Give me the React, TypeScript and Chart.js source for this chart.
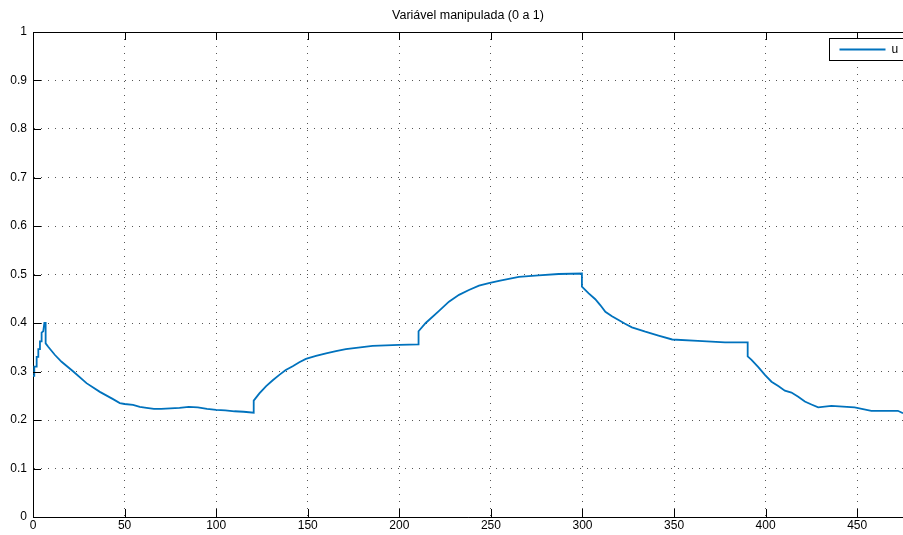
import React, { useEffect, useRef } from "react";
import { Chart, registerables } from "chart.js";

Chart.register(...registerables);

const chartTitle = "Variável manipulada (0 a 1)";
const seriesLabel = "u";

const timeValues = [
  0, 0.7, 0.7, 2, 2, 2.9, 2.9, 3.8, 3.8, 4.7, 4.7, 5.6, 6.2, 6.9, 6.9, 8.3, 12, 15.6, 22, 29.2,
  36.5, 43.7, 47.4, 50, 54.6, 58.3, 62, 66, 70, 75, 80, 85, 90, 95, 100, 105, 110, 115, 120.5,
  120.5, 123.6, 127.3, 130.9, 134.5, 138, 141.8, 145.4, 149, 154.5, 160, 165.4, 170.8, 185.4,
  199.9, 210.5, 210.5, 214.4, 221.7, 227.1, 232.6, 238, 243.5, 248.9, 254.4, 259.8, 265.3, 276,
  287, 299.7, 299.7, 301.6, 303.4, 307, 309.7, 312.5, 316.1, 319.7, 323, 327, 334.3, 341.5, 349,
  363, 377.8, 390.2, 390.2, 392.3, 396, 399.6, 403.2, 406.9, 410.5, 414.1, 417.8, 421.4, 425,
  428.7, 435.9, 448.6, 457.7, 472.2, 475,
];

const uValues = [
  0.291, 0.291, 0.31, 0.31, 0.33, 0.33, 0.346, 0.346, 0.362, 0.362, 0.38, 0.383, 0.4, 0.4, 0.358,
  0.351, 0.334, 0.32, 0.3, 0.276, 0.258, 0.243, 0.235, 0.233, 0.231, 0.227, 0.225, 0.223, 0.223,
  0.224, 0.225, 0.227, 0.226, 0.223, 0.221, 0.22, 0.218, 0.217, 0.215, 0.24, 0.255, 0.27, 0.282,
  0.293, 0.303, 0.311, 0.319, 0.326, 0.332, 0.3375, 0.342, 0.346, 0.353, 0.355, 0.356, 0.383, 0.4,
  0.425, 0.444, 0.458, 0.468, 0.477, 0.482, 0.487, 0.491, 0.495, 0.498, 0.501, 0.502, 0.475,
  0.468, 0.461, 0.449, 0.437, 0.423, 0.414, 0.406, 0.399, 0.391, 0.382, 0.374, 0.366, 0.363, 0.36,
  0.36, 0.331, 0.324, 0.309, 0.293, 0.279, 0.27, 0.2605, 0.2565, 0.248, 0.238, 0.232, 0.226,
  0.229, 0.226, 0.219, 0.219, 0.214,
];

const xTicks = [0, 50, 100, 150, 200, 250, 300, 350, 400, 450];
const yTicks = [0, 0.1, 0.2, 0.3, 0.4, 0.5, 0.6, 0.7, 0.8, 0.9, 1];
const xMin = 0;
const xMax = 475;
const yMin = 0;
const yMax = 1;

const FONT = "'Liberation Sans', Arial, Helvetica, sans-serif";
const LINE_COLOR = "#0072BD";

const matlabAxesPlugin = {
  id: "matlabAxes",
  afterDatasetsDraw(chart: any) {
    const { ctx, chartArea, scales } = chart;
    const { left, right, top, bottom } = chartArea;
    const tickLen = 8;
    ctx.save();
    ctx.strokeStyle = "#000";
    ctx.lineWidth = 1;
    ctx.beginPath();
    ctx.moveTo(left, Math.round(top) + 0.5);
    ctx.lineTo(right, Math.round(top) + 0.5);
    scales.x.ticks.forEach((t: any) => {
      const px = Math.round(scales.x.getPixelForValue(t.value)) + 0.5;
      ctx.moveTo(px, bottom);
      ctx.lineTo(px, bottom - tickLen);
      ctx.moveTo(px, top);
      ctx.lineTo(px, top + tickLen);
    });
    scales.y.ticks.forEach((t: any) => {
      const py = Math.round(scales.y.getPixelForValue(t.value)) + 0.5;
      ctx.moveTo(left, py);
      ctx.lineTo(left + tickLen, py);
    });
    ctx.stroke();

    const ds = chart.data.datasets[0];
    const bx = Math.round(right - 74) + 0.5;
    const by = Math.round(top + 6) + 0.5;
    const bw = 90;
    const bh = 22;
    ctx.fillStyle = "#fff";
    ctx.fillRect(bx, by, bw, bh);
    ctx.strokeStyle = "#000";
    ctx.lineWidth = 1;
    ctx.strokeRect(bx, by, bw, bh);
    const ly = by + bh / 2;
    ctx.strokeStyle = ds.borderColor;
    ctx.lineWidth = ds.borderWidth;
    ctx.beginPath();
    ctx.moveTo(bx + 10, ly);
    ctx.lineTo(bx + 56, ly);
    ctx.stroke();
    ctx.fillStyle = "#000";
    ctx.font = `12px ${FONT}`;
    ctx.textBaseline = "middle";
    ctx.textAlign = "left";
    ctx.fillText(ds.label, bx + 62, ly);
    ctx.restore();
  },
};

export default function App() {
  const canvasRef = useRef<HTMLCanvasElement | null>(null);

  useEffect(() => {
    document.body.style.margin = "0";
    const canvas = canvasRef.current;
    if (!canvas) return;
    const points = timeValues.map((t, i) => ({ x: t, y: uValues[i] }));
    const chart = new Chart(canvas, {
      type: "line",
      data: {
        datasets: [
          {
            label: seriesLabel,
            data: points,
            borderColor: LINE_COLOR,
            backgroundColor: LINE_COLOR,
            borderWidth: 1.8,
            pointRadius: 0,
            tension: 0,
            fill: false,
          },
        ],
      },
      options: {
        animation: false,
        responsive: false,
        devicePixelRatio: 1,
        layout: { padding: { left: 0, right: 0, top: 0, bottom: 0 } },
        plugins: {
          legend: { display: false },
          tooltip: { enabled: false },
          title: {
            display: true,
            text: chartTitle,
            fullSize: false,
            color: "#000",
            font: { family: FONT, size: 12.5, weight: "normal" },
            padding: { top: 8, bottom: 9 },
          },
        },
        scales: {
          x: {
            type: "linear",
            min: xMin,
            max: xMax,
            afterBuildTicks: (scale: any) => {
              scale.ticks = xTicks.map((v) => ({ value: v }));
            },
            afterFit: (scale: any) => {
              scale.height = 18;
            },
            grid: { color: "#555", lineWidth: 1, drawTicks: false },
            border: { display: true, color: "#000", width: 1, dash: [1, 6] },
            ticks: {
              color: "#000",
              font: { family: FONT, size: 12 },
              padding: 1,
              maxRotation: 0,
              autoSkip: false,
              callback: (v: any) => String(v),
            },
          },
          y: {
            type: "linear",
            min: yMin,
            max: yMax,
            afterBuildTicks: (scale: any) => {
              scale.ticks = yTicks.map((v) => ({ value: v }));
            },
            afterFit: (scale: any) => {
              scale.width = 33;
            },
            grid: { color: "#555", lineWidth: 1, drawTicks: false },
            border: { display: true, color: "#000", width: 1, dash: [1, 6] },
            ticks: {
              color: "#000",
              font: { family: FONT, size: 12 },
              padding: 6,
              autoSkip: false,
              callback: (v: any) => String(v),
            },
          },
        },
      },
      plugins: [matlabAxesPlugin],
    });
    return () => chart.destroy();
  }, []);

  return (
    <div style={{ position: "absolute", left: 0, top: 0, width: 903, height: 535, background: "#fff" }}>
      <canvas ref={canvasRef} width={903} height={535} />
    </div>
  );
}
